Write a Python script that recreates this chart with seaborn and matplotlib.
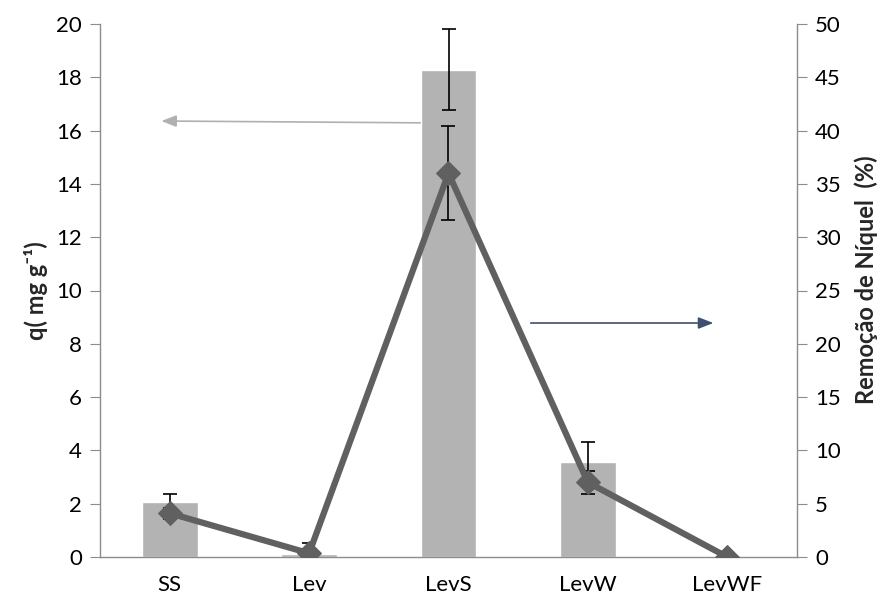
import matplotlib
matplotlib.use("Agg")
import matplotlib.pyplot as plt
import seaborn as sns
import pandas as pd
import numpy as np

# Adsorption capacity (bars, left axis) and nickel removal (line, right axis)
categories = ["SS", "Lev", "LevS", "LevW", "LevWF"]
q_values = [2.05, 0.11, 18.28, 3.58, 0.0]
q_errors = [0.30, 0.40, 1.52, 0.72, 0.0]
removal_values = [4.1, 0.35, 36.0, 7.0, 0.0]
removal_errors = [0.5, 0.3, 4.4, 1.1, 0.0]

left_ticks = [0, 2, 4, 6, 8, 10, 12, 14, 16, 18, 20]
right_ticks = [0, 5, 10, 15, 20, 25, 30, 35, 40, 45, 50]

df = pd.DataFrame({"sample": categories, "q": q_values, "removal": removal_values})

sns.set_style("white")
plt.rcParams["font.family"] = ["Lato", "DejaVu Sans"]

spine_col = "#8c8c8c"
bar_col = "#b3b3b3"
line_col = "#606060"
fs = 16

fig = plt.figure(figsize=(8.88, 6.02), dpi=100)
ax = fig.add_axes([100 / 888, 45 / 602, 697 / 888, 533 / 602])

sns.barplot(data=df, x="sample", y="q", color=bar_col, width=0.4,
            saturation=1, errorbar=None, ax=ax, zorder=2)
ax.errorbar(np.arange(len(categories)), q_values, yerr=q_errors, fmt="none",
            ecolor="black", elinewidth=1.2, capsize=5, capthick=1.2, zorder=3)

ax.set_xlim(-0.5, 4.5)
ax.set_ylim(0, 20)
ax.set_yticks(left_ticks)
ax.set_yticklabels([str(t) for t in left_ticks])
ax.set_xlabel("")
ax.set_ylabel("q( mg g⁻¹)", fontsize=17, fontweight="bold", labelpad=6)

# category ticks sit between the groups
ax.set_xticks(np.arange(len(categories)))
ax.set_xticklabels(categories)
ax.set_xticks(np.arange(-0.5, 5.0, 1.0), minor=True)
ax.tick_params(axis="x", which="major", length=0, pad=13, labelsize=fs)
ax.tick_params(axis="x", which="minor", length=8, color=spine_col, direction="out")
ax.tick_params(axis="y", length=7, color=spine_col, direction="out", labelsize=fs, pad=6)

for side in ["top", "right"]:
    ax.spines[side].set_visible(False)
for side in ["left", "bottom"]:
    ax.spines[side].set_color(spine_col)
    ax.spines[side].set_linewidth(1.0)

ax2 = ax.twinx()
ax2.errorbar(np.arange(len(categories)), removal_values, yerr=removal_errors, fmt="none",
             ecolor="black", elinewidth=1.2, capsize=5, capthick=1.2, zorder=3)
sns.lineplot(x=np.arange(len(categories)), y=removal_values, color=line_col,
             linewidth=4.5, marker="D", markersize=12, markeredgecolor=line_col,
             ax=ax2, zorder=4)
ax2.set_ylim(0, 50)
ax2.set_xlim(-0.5, 4.5)
ax2.set_yticks(right_ticks)
ax2.set_yticklabels([str(t) for t in right_ticks])
ax2.set_ylabel("Remoção de Níquel  (%)", fontsize=17, fontweight="bold", labelpad=8)
ax2.yaxis.set_label_coords(1.083, 0.52)
ax2.tick_params(axis="y", length=7, color=spine_col, direction="out", labelsize=fs, pad=6)
for side in ["top", "left", "bottom"]:
    ax2.spines[side].set_visible(False)
ax2.spines["right"].set_color(spine_col)
ax2.spines["right"].set_linewidth(1.0)
ax2.grid(False)
for lbl in ax2.get_yticklabels() + ax.get_yticklabels() + ax.get_xticklabels():
    lbl.set_color("black")

# pointers to the axis each series belongs to
ax.annotate("", xy=(-0.06, 16.36), xytext=(1.83, 16.29), xycoords="data",
            arrowprops=dict(arrowstyle="-|>,head_length=0.9,head_width=0.35",
                            color="#b0b0b0", lw=1.2, shrinkA=0, shrinkB=0),
            zorder=1)
ax.annotate("", xy=(3.90, 8.78), xytext=(2.59, 8.78), xycoords="data",
            arrowprops=dict(arrowstyle="-|>,head_length=0.9,head_width=0.35",
                            color="#3d506e", lw=1.2, shrinkA=0, shrinkB=0),
            zorder=5)

fig.savefig("out.png", dpi=100)
